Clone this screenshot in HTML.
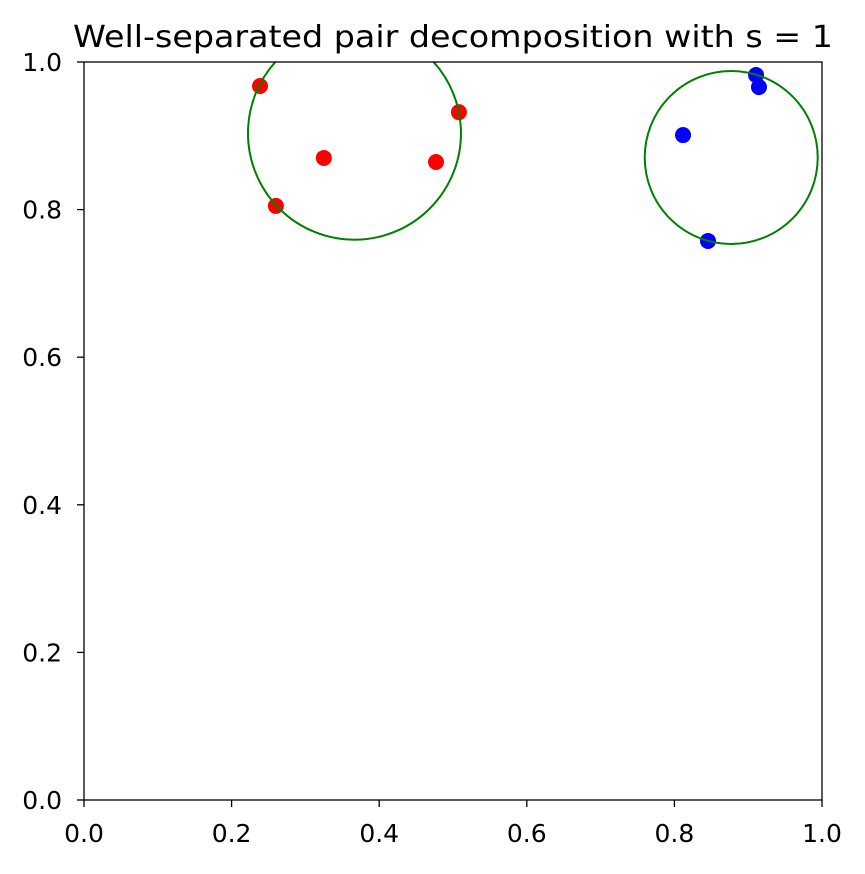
<!DOCTYPE html>
<html><head><meta charset="utf-8"><style>
html,body{margin:0;padding:0;background:#fff;}
svg text{font-family:"DejaVu Sans","Liberation Sans",sans-serif;fill:#000;}
</style></head><body>
<svg id="chart" width="865" height="869" xmlns="http://www.w3.org/2000/svg">
<defs><clipPath id="plotclip"><rect x="84" y="62" width="738" height="738"/></clipPath></defs>
<rect width="865" height="869" fill="#fff"/>
<text x="453" y="47" font-size="30" text-anchor="middle" textLength="760" lengthAdjust="spacingAndGlyphs">Well-separated pair decomposition with s = 1</text>
<g id="marks" clip-path="url(#plotclip)"></g>
<g id="axes"></g>
</svg>
<script>
const redX=[0.2385,0.260,0.325,0.477,0.508];
const redY=[0.9675,0.805,0.870,0.8645,0.932];
const blueX=[0.9106,0.9146,0.8117,0.8455];
const blueY=[0.9824,0.966,0.901,0.7575];
const circleCX=[0.3665,0.877];
const circleCY=[0.9035,0.8706];
const circleR=[0.1443,0.1172];
const xTicks=[0,0.2,0.4,0.6,0.8,1.0];
const yTicks=[0,0.2,0.4,0.6,0.8,1.0];
const xTickLabels=["0.0","0.2","0.4","0.6","0.8","1.0"];
const yTickLabels=["0.0","0.2","0.4","0.6","0.8","1.0"];

const L=84,R=822,T=62,B=800;
const sx=v=>L+v*(R-L);
const sy=v=>B-v*(B-T);
const NS="http://www.w3.org/2000/svg";
const marks=document.getElementById('marks');
const axes=document.getElementById('axes');
function mk(tag,attrs,parent){const e=document.createElementNS(NS,tag);for(const k in attrs)e.setAttribute(k,attrs[k]);parent.appendChild(e);return e;}

for(let i=0;i<redX.length;i++){
  const c=mk('circle',{cx:sx(redX[i]),cy:sy(redY[i]),r:8,fill:'#ff0000'},marks);
  
  
}
for(let i=0;i<blueX.length;i++){
  const c=mk('circle',{cx:sx(blueX[i]),cy:sy(blueY[i]),r:8,fill:'#0000ff'},marks);
  
  
}
for(let i=0;i<circleCX.length;i++){
  const c=mk('circle',{cx:sx(circleCX[i]),cy:sy(circleCY[i]),r:circleR[i]*(R-L),fill:'none',stroke:'#008000','stroke-width':2},marks);
  
  
}
const frame=mk('rect',{x:L,y:T,width:R-L,height:B-T,fill:'none',stroke:'#000','stroke-width':1.3},axes);


for(let i=0;i<xTicks.length;i++){
  const x=sx(xTicks[i]);
  const t=mk('line',{x1:x,y1:B,x2:x,y2:B+7,stroke:'#000','stroke-width':1.3},axes);
  
  
  const l=mk('text',{x:x,y:B+42,'font-size':25,'text-anchor':'middle'},axes);
  l.textContent=xTickLabels[i];
  
  
}
for(let i=0;i<yTicks.length;i++){
  const y=sy(yTicks[i]);
  const t=mk('line',{x1:L-7,y1:y,x2:L,y2:y,stroke:'#000','stroke-width':1.3},axes);
  
  
  const l=mk('text',{x:L-22,y:y+9,'font-size':25,'text-anchor':'end'},axes);
  l.textContent=yTickLabels[i];
  
  
}
</script>
</body></html>
